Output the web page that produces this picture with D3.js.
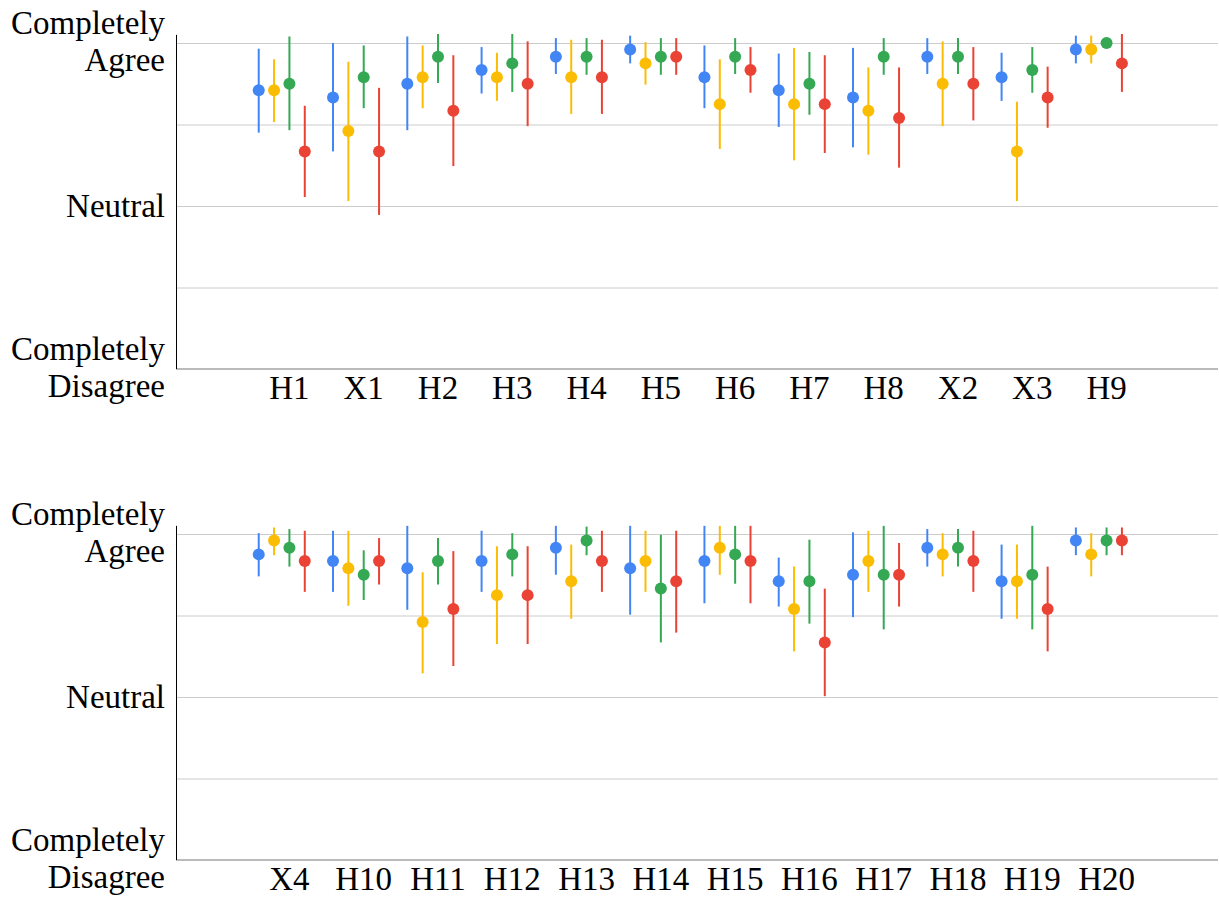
<!DOCTYPE html>
<html>
<head>
<meta charset="utf-8">
<script src="https://cdn.jsdelivr.net/npm/d3@7"></script>
<style>
  html, body { margin: 0; padding: 0; background: #fff; }
  svg { display: block; }
  text { font-family: "Liberation Serif", "Times New Roman", serif; fill: #000; }
</style>
</head>
<body>
<svg id="chart" width="1219" height="899"></svg>
<script>
// Agreement scale: 1 = Completely Disagree, 3 = Neutral, 5 = Completely Agree
const series = ["blue", "yellow", "green", "red"];
const seriesColors = ["#4285F4", "#FBBC04", "#34A853", "#EA4335"];

const yTickValues = [1, 2, 3, 4, 5];
const yTickLabels = { 1: ["Completely", "Disagree"], 3: ["Neutral"], 5: ["Completely", "Agree"] };

// ---- upper panel ----
const topCategories = ["H1", "X1", "H2", "H3", "H4", "H5", "H6", "H7", "H8", "X2", "X3", "H9"];
const topMeans = [
  [4.42, 4.33, 4.50, 4.67, 4.83, 4.92, 4.58, 4.42, 4.33, 4.83, 4.58, 4.92],
  [4.42, 3.92, 4.58, 4.58, 4.58, 4.75, 4.25, 4.25, 4.17, 4.50, 3.67, 4.92],
  [4.50, 4.58, 4.83, 4.75, 4.83, 4.83, 4.83, 4.50, 4.83, 4.83, 4.67, 5.00],
  [3.67, 3.67, 4.17, 4.50, 4.58, 4.83, 4.67, 4.25, 4.08, 4.50, 4.33, 4.75]
];
const topLows = [
  [3.90, 3.67, 3.93, 4.38, 4.62, 4.75, 4.20, 3.97, 3.72, 4.62, 4.29, 4.75],
  [4.03, 3.06, 4.20, 4.29, 4.13, 4.49, 3.70, 3.56, 3.63, 3.98, 3.06, 4.75],
  [3.93, 4.20, 4.51, 4.40, 4.61, 4.61, 4.62, 4.12, 4.61, 4.62, 4.39, 5.00],
  [3.11, 2.89, 3.49, 3.98, 4.13, 4.61, 4.39, 3.65, 3.47, 4.05, 3.96, 4.40]
];
const topHighs = [
  [4.93, 5.00, 5.08, 4.95, 5.06, 5.09, 4.97, 4.87, 4.94, 5.06, 4.88, 5.09],
  [4.80, 4.77, 4.97, 4.88, 5.04, 5.01, 4.80, 4.94, 4.70, 5.02, 4.28, 5.09],
  [5.08, 4.97, 5.11, 5.11, 5.06, 5.06, 5.06, 4.89, 5.06, 5.06, 4.95, 5.00],
  [4.23, 4.45, 4.85, 5.02, 5.04, 5.06, 4.95, 4.85, 4.70, 4.95, 4.71, 5.11]
];

// ---- lower panel ----
const bottomCategories = ["X4", "H10", "H11", "H12", "H13", "H14", "H15", "H16", "H17", "H18", "H19", "H20"];
const bottomMeans = [
  [4.75, 4.67, 4.58, 4.67, 4.83, 4.58, 4.67, 4.42, 4.50, 4.83, 4.42, 4.92],
  [4.92, 4.58, 3.92, 4.25, 4.42, 4.67, 4.83, 4.08, 4.67, 4.75, 4.42, 4.75],
  [4.83, 4.50, 4.67, 4.75, 4.92, 4.33, 4.75, 4.42, 4.50, 4.83, 4.50, 4.92],
  [4.67, 4.67, 4.08, 4.25, 4.67, 4.42, 4.67, 3.67, 4.50, 4.67, 4.08, 4.92]
];
const bottomLows = [
  [4.48, 4.29, 4.07, 4.29, 4.50, 4.01, 4.15, 4.11, 3.98, 4.60, 3.96, 4.74],
  [4.74, 4.12, 3.29, 3.65, 3.96, 4.29, 4.50, 3.56, 4.29, 4.48, 3.96, 4.48],
  [4.60, 4.19, 4.38, 4.48, 4.74, 3.67, 4.39, 3.90, 3.83, 4.60, 3.83, 4.74],
  [4.29, 4.38, 3.38, 3.65, 4.29, 3.79, 4.15, 3.01, 4.11, 4.29, 3.56, 4.74]
];
const bottomHighs = [
  [5.01, 5.04, 5.10, 5.04, 5.10, 5.10, 5.10, 4.71, 5.02, 5.06, 4.87, 5.08],
  [5.08, 5.04, 4.53, 4.85, 4.87, 5.04, 5.10, 4.60, 5.04, 5.01, 4.87, 5.01],
  [5.06, 4.80, 4.95, 5.01, 5.09, 4.99, 5.10, 4.93, 5.10, 5.06, 5.10, 5.08],
  [5.04, 4.95, 4.79, 4.85, 5.04, 5.04, 5.10, 4.33, 4.89, 5.04, 4.60, 5.08]
];

const svg = d3.select("#chart");
const axisX = 176, plotRight = 1218, plotH = 326, yAxisTop = 5.1;
const fontSize = "33px";

const panels = [
  { cats: topCategories, means: topMeans, lows: topLows, highs: topHighs, base: 369 },
  { cats: bottomCategories, means: bottomMeans, lows: bottomLows, highs: bottomHighs, base: 860 }
];

panels.forEach(p => {
  const g = svg.append("g");
  const y = d3.scaleLinear().domain([1, 5]).range([p.base, p.base - plotH]);
  const x = d3.scaleBand().domain(p.cats).range([178, plotRight]).paddingInner(0).paddingOuter(1);
  const sx = d3.scalePoint().domain(series).range([-30.7, 15.35]);

  // horizontal gridlines + y labels
  const yAxis = g.append("g")
    .attr("transform", `translate(${axisX},0)`)
    .call(d3.axisLeft(y).tickValues(yTickValues).tickSize(-(plotRight - axisX)).tickFormat(""));
  yAxis.select(".domain").remove();
  yAxis.selectAll(".tick line").attr("stroke", "#cccccc").attr("stroke-width", 1);
  yAxis.selectAll(".tick").filter(d => d === 1).select("line").remove();
  yAxis.selectAll(".tick").each(function (d) {
    const lines = yTickLabels[d];
    if (!lines) return;
    const t = d3.select(this).select("text")
      .attr("x", -11).attr("y", 0).attr("dy", null)
      .attr("text-anchor", "end").style("font-size", fontSize).text(null);
    if (lines.length === 1) {
      t.append("tspan").attr("x", -11).attr("y", 10.5).text(lines[0]);
    } else {
      t.append("tspan").attr("x", -11).attr("y", -10).text(lines[0]);
      t.append("tspan").attr("x", -11).attr("y", 27.5).text(lines[1]);
    }
  });

  // baseline and vertical axis
  g.append("line").attr("x1", axisX).attr("x2", plotRight)
    .attr("y1", y(1)).attr("y2", y(1)).attr("stroke", "#777");
  g.append("line").attr("x1", axisX + 0.5).attr("x2", axisX + 0.5)
    .attr("y1", y(yAxisTop)).attr("y2", y(1)).attr("stroke", "#000");

  // category labels
  const xAxis = g.append("g")
    .attr("transform", `translate(0,${y(1)})`)
    .call(d3.axisBottom(x).tickSize(0));
  xAxis.select(".domain").remove();
  xAxis.selectAll("text").attr("y", 30).attr("dy", null)
    .style("font-size", fontSize).attr("font-family", null);

  // interval bars and means
  series.forEach((s, si) => {
    const rows = p.cats.map((c, ci) => ({
      c, m: p.means[si][ci], lo: p.lows[si][ci], hi: p.highs[si][ci]
    }));
    const cx = d => x(d.c) + x.bandwidth() / 2 + sx(s);
    const sg = g.append("g");
    sg.selectAll("line").data(rows.filter(d => d.hi > d.lo)).join("line")
      .attr("x1", cx).attr("x2", cx)
      .attr("y1", d => y(d.hi)).attr("y2", d => y(d.lo))
      .attr("stroke", seriesColors[si]).attr("stroke-width", 2);
    sg.selectAll("circle").data(rows).join("circle")
      .attr("cx", cx).attr("cy", d => y(d.m)).attr("r", 6)
      .attr("fill", seriesColors[si]);
  });
});
</script>
</body>
</html>
